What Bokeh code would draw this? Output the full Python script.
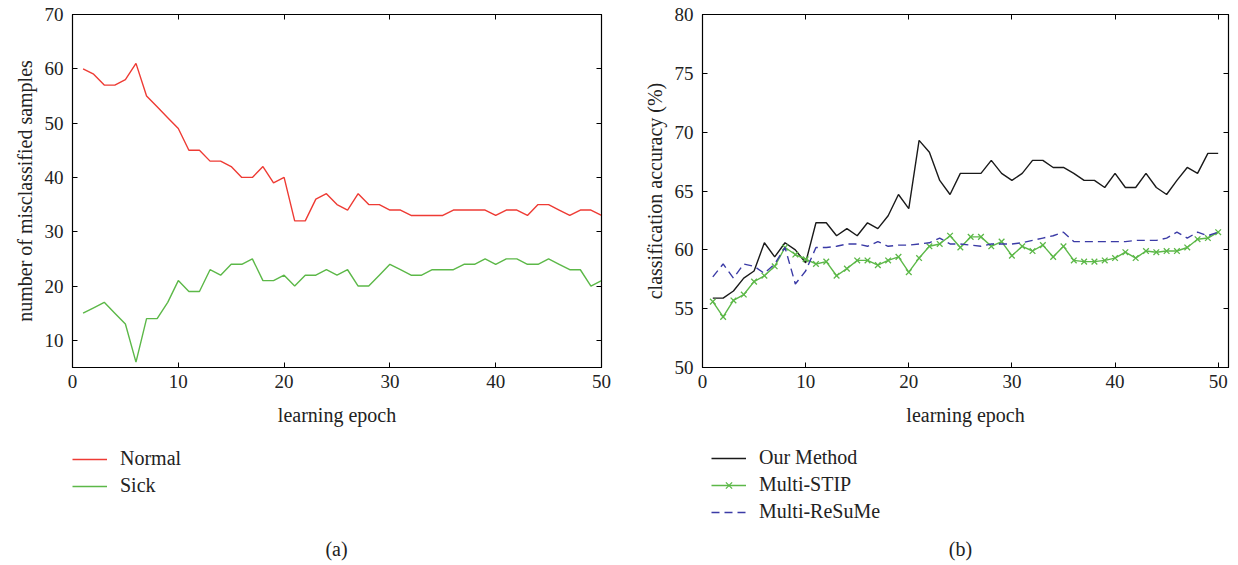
from bokeh.plotting import figure
from bokeh.models import (Range1d, FixedTicker, LinearAxis, Legend, LegendItem,
                          Label, CustomJSTickFormatter)
from bokeh.layouts import row, column
from bokeh.embed import file_html
from bokeh.resources import INLINE

epochs = list(range(1, 51))

normal = [60, 59, 57, 57, 58, 61, 55, 53, 51, 49,
          45, 45, 43, 43, 42, 40, 40, 42, 39, 40,
          32, 32, 36, 37, 35, 34, 37, 35, 35, 34,
          34, 33, 33, 33, 33, 34, 34, 34, 34, 33,
          34, 34, 33, 35, 35, 34, 33, 34, 34, 33]
sick = [15, 16, 17, 15, 13, 6, 14, 14, 17, 21,
        19, 19, 23, 22, 24, 24, 25, 21, 21, 22,
        20, 22, 22, 23, 22, 23, 20, 20, 22, 24,
        23, 22, 22, 23, 23, 23, 24, 24, 25, 24,
        25, 25, 24, 24, 25, 24, 23, 23, 20, 21]

our_method = [55.9, 55.9, 56.5, 57.6, 58.2, 60.6, 59.4, 60.6, 60.0, 58.9,
              62.3, 62.3, 61.2, 61.8, 61.2, 62.3, 61.8, 62.9, 64.7, 63.5,
              69.3, 68.3, 65.9, 64.7, 66.5, 66.5, 66.5, 67.6, 66.5, 65.9,
              66.5, 67.6, 67.6, 67.0, 67.0, 66.5, 65.9, 65.9, 65.3, 66.5,
              65.3, 65.3, 66.5, 65.3, 64.7, 65.9, 67.0, 66.5, 68.2, 68.2]
multi_stip = [55.6, 54.3, 55.7, 56.2, 57.3, 57.8, 58.6, 60.2, 59.6, 59.2,
              58.8, 59.0, 57.8, 58.4, 59.1, 59.1, 58.7, 59.1, 59.4, 58.1,
              59.3, 60.3, 60.5, 61.2, 60.2, 61.1, 61.1, 60.3, 60.7, 59.5,
              60.3, 59.9, 60.4, 59.4, 60.3, 59.1, 59.0, 59.0, 59.1, 59.3,
              59.8, 59.3, 59.9, 59.8, 59.9, 59.9, 60.2, 60.9, 61.0, 61.5]
multi_resume = [57.7, 58.8, 57.6, 58.8, 58.6, 58.0, 58.8, 60.2, 57.1, 58.2,
                60.2, 60.2, 60.3, 60.5, 60.5, 60.3, 60.7, 60.3, 60.4, 60.4,
                60.5, 60.6, 61.0, 60.5, 60.5, 60.4, 60.3, 60.5, 60.5, 60.5,
                60.6, 60.8, 61.0, 61.2, 61.5, 60.7, 60.7, 60.7, 60.7, 60.7,
                60.7, 60.8, 60.8, 60.8, 61.0, 61.5, 61.0, 61.5, 61.2, 61.5]

x_ticks = [0, 10, 20, 30, 40, 50]
ya_ticks = [10, 20, 30, 40, 50, 60, 70]
yb_ticks = [50, 55, 60, 65, 70, 75, 80]
labels_a = ["Normal", "Sick"]
labels_b = ["Our Method", "Multi-STIP", "Multi-ReSuMe"]
captions = ["(a)", "(b)"]

FONT = "Liberation Serif"
RED = "#ee3b34"
GREEN = "#5cb848"
BLACK = "#1a1a1a"
BLUE = "#3b3ba6"
TXT = "#222222"


def style(p, xt, yt, ylabel):
    p.outline_line_color = "black"
    p.outline_line_width = 1.2
    p.background_fill_color = "white"
    p.border_fill_color = "white"
    p.grid.visible = False
    for ax in p.xaxis + p.yaxis:
        ax.major_label_text_font = FONT
        ax.major_label_text_font_size = "19px"
        ax.major_label_text_color = TXT
        ax.axis_label_text_font = FONT
        ax.axis_label_text_font_size = "20px"
        ax.axis_label_text_font_style = "normal"
        ax.axis_label_text_color = TXT
        ax.major_tick_in = 5
        ax.major_tick_out = 0
        ax.minor_tick_in = 0
        ax.minor_tick_out = 0
        ax.axis_line_color = "black"
        ax.major_tick_line_color = "black"
    p.xaxis.ticker = FixedTicker(ticks=xt)
    p.yaxis.ticker = FixedTicker(ticks=yt)
    p.xaxis.axis_label = "learning epoch"
    p.xaxis.major_label_standoff = 7
    p.xaxis.axis_label_standoff = 13
    p.yaxis.axis_label = ylabel
    p.yaxis.major_label_standoff = 9
    p.yaxis.axis_label_standoff = 6
    blank = CustomJSTickFormatter(code="return ''")
    ra = LinearAxis(ticker=FixedTicker(ticks=yt), formatter=blank,
                    major_tick_in=5, major_tick_out=0, minor_tick_in=0, minor_tick_out=0,
                    major_label_standoff=0, axis_line_color="black")
    ta = LinearAxis(ticker=FixedTicker(ticks=xt), formatter=blank,
                    major_tick_in=5, major_tick_out=0, minor_tick_in=0, minor_tick_out=0,
                    major_label_standoff=0, axis_line_color="black")
    p.add_layout(ra, "right")
    p.add_layout(ta, "above")


def bottom_fig(width):
    # legend-only strip: its ranges lie far away from the data, so the
    # series drawn here only feed the legend swatches
    f = figure(width=width, height=127, output_backend="svg", toolbar_location=None,
               x_range=Range1d(1000, 1001), y_range=Range1d(1000, 1001),
               x_axis_location=None, y_axis_location=None,
               min_border=0, min_border_left=0, min_border_right=0,
               min_border_top=0, min_border_bottom=0)
    f.outline_line_color = None
    f.grid.visible = False
    f.background_fill_color = "white"
    f.border_fill_color = "white"
    return f


def make_legend(items, loc):
    return Legend(items=items, location=loc, margin=0, padding=0, spacing=4,
                  label_height=22, glyph_height=22, glyph_width=35, label_standoff=13,
                  label_text_font=FONT, label_text_font_size="20px",
                  label_text_color=TXT,
                  border_line_alpha=0, background_fill_alpha=0)


def caption(text, x):
    return Label(x=x, y=17, x_units="screen", y_units="screen", text=text,
                 text_align="center", text_baseline="middle", text_font=FONT,
                 text_font_size="20px", text_color=TXT)


# ---------- panel (a) ----------
pa = figure(width=640, height=438, output_backend="svg", toolbar_location=None,
            x_range=Range1d(0, 50), y_range=Range1d(5, 70),
            min_border_left=72, min_border_right=39, min_border_top=14, min_border_bottom=71)
style(pa, x_ticks, ya_ticks, "number of misclassified samples")
pa.line(epochs, normal, line_color=RED, line_width=1.4)
pa.line(epochs, sick, line_color=GREEN, line_width=1.4)

la = bottom_fig(640)
ka_n = la.line(epochs, normal, line_color=RED, line_width=1.4)
ka_s = la.line(epochs, sick, line_color=GREEN, line_width=1.4)
la.add_layout(make_legend([LegendItem(label=labels_a[0], renderers=[ka_n]),
                           LegendItem(label=labels_a[1], renderers=[ka_s])], (72, 68)))
la.add_layout(caption(captions[0], 336))

# ---------- panel (b) ----------
pb = figure(width=598, height=438, output_backend="svg", toolbar_location=None,
            x_range=Range1d(0, 51), y_range=Range1d(50, 80),
            min_border_left=61, min_border_right=10, min_border_top=14, min_border_bottom=71)
style(pb, x_ticks, yb_ticks, "classification accuracy (%)")
pb.line(epochs, our_method, line_color=BLACK, line_width=1.4)
pb.line(epochs, multi_stip, line_color=GREEN, line_width=1.4)
pb.scatter(epochs, multi_stip, marker="x", size=8, line_color=GREEN, line_width=1.3)
pb.line(epochs, multi_resume, line_color=BLUE, line_width=1.4, line_dash="8 5")

lb = bottom_fig(598)
kb_o = lb.line(epochs, our_method, line_color=BLACK, line_width=1.4)
kb_m = lb.line(epochs, multi_stip, line_color=GREEN, line_width=1.4)
kb_mx = lb.scatter(epochs, multi_stip, marker="x", size=8, line_color=GREEN, line_width=1.3)
kb_r = lb.line(epochs, multi_resume, line_color=BLUE, line_width=1.4, line_dash="8 5")
lb.add_layout(make_legend([LegendItem(label=labels_b[0], renderers=[kb_o]),
                           LegendItem(label=labels_b[1], renderers=[kb_m, kb_mx]),
                           LegendItem(label=labels_b[2], renderers=[kb_r])], (71, 42)))
lb.add_layout(caption(captions[1], 320))

layout = column(row(pa, pb), row(la, lb))
open("out.html", "w").write(file_html(layout, INLINE))
